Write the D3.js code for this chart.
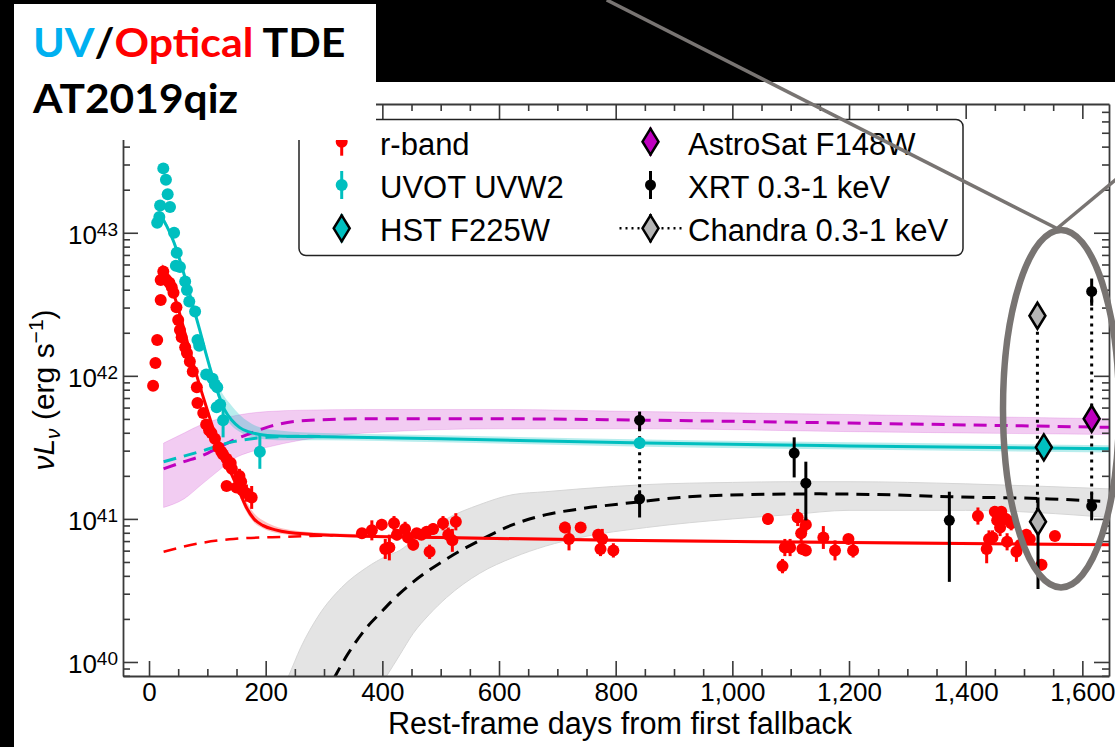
<!DOCTYPE html>
<html><head><meta charset="utf-8">
<script src="https://cdn.jsdelivr.net/npm/d3@7"></script>
<style>
html,body{margin:0;padding:0;background:#000;}
svg{display:block;}
</style></head>
<body>
<svg id="fig" width="1115" height="747"></svg>
<script>
// ---- observations: [day, log10 L] or [day, log10 L, err(dex)] ----
const rbandEarly = [
  [7,41.93],[11,42.09],[14,42.25],[20,42.53],[20,42.67],[24.5,42.73],[27,42.68],[30,42.67],
  [35,42.65],[39,42.62],[42,42.58],[47,42.48],[50,42.39],[53,42.32],[56,42.27],[62,42.20],
  [65,42.16],[70,42.10],[75,42.03],[82,41.92],[83,41.81],[93,41.74],[98,41.66],[103,41.62],
  [107,41.60],[113,41.56],[119,41.50],[124,41.47],[127,41.45],[133,41.42],[136,41.38],
  [140,41.39],[142,41.35],[133,41.23],[150,41.22],[155,41.30,0.05],[158,41.26],[160,41.20,0.06],
  [167,41.18,0.06],[176,41.15,0.08]
];
const rbandLate = [
  [365,40.90,0.03],[382,40.92,0.07],[399,40.96,0.04],[405,40.79,0.07],[412,40.80,0.09],
  [420,40.97,0.05],[425,40.89,0.04],[439,40.93,0.05],[444,40.87,0.04],[453,40.82,0.04],
  [459,40.90,0.03],[467,40.89,0.03],[476,40.91,0.03],[481,40.77,0.05],[487,40.93,0.04],
  [504,40.97,0.05],[513,40.89,0.05],[520,40.85,0.08],[526,40.98,0.06],[713,40.94,0.04],
  [720,40.86,0.08],[740,40.94,0.02],[770,40.89,0.04],[777,40.86,0.07],[774,40.79,0.05],
  [796,40.78,0.05],[1061,41.00,0.04],[1086,40.67,0.05],[1090,40.80,0.06],[1099,40.80,0.06],
  [1112,41.01,0.06],[1118,40.90,0.06],[1120,40.79,0.04],[1126,40.96,0.05],[1126,40.78,0.04],
  [1156,40.87,0.08],[1176,40.78,0.07],[1199,40.86,0.02],[1207,40.78,0.05],[1421,41.02,0.06],
  [1436,40.79,0.10],[1440,40.86,0.06],[1446,40.87,0.05],[1450,41.05,0.04],[1454,40.99,0.05],
  [1459,40.94,0.06],[1461,41.05,0.04],[1469,41.00,0.04],[1471,40.84,0.06],[1478,40.97,0.05],
  [1487,40.77,0.07],[1494,40.82,0.05],[1504,40.89,0.04],[1510,40.86,0.04],[1530,40.68,0.04],
  [1553,40.88,0.02]
];
const uvw2Points = [
  [14,43.07],[17.7,43.11],[19,43.19],[24.5,43.45],[29,43.37],[32,43.27],[36,43.18],[43,43.00],
  [46,42.77],[47.5,42.86],[53,42.76],[62,42.66],[65,42.60],[69,42.52],[79,42.45],[83,42.25],
  [86,42.21],[98,42.01],[109,41.98],[113,41.94],[117,41.92],[122,41.80],[116,41.78],
  [127,41.69,0.12],[190,41.47,0.12],[841,41.53,0.04]
];
// X-ray: [day, log10 L, low, high]
const xrtPoints = [
  [841,41.69,41.62,41.75],[841,41.14,41.01,41.20],[1106,41.46,41.29,41.57],
  [1126,41.25,40.99,41.40],[1372,40.99,40.56,41.19],[1616,42.59,42.49,42.68],
  [1616,41.09,40.99,41.18]
];
const chandraPoints = [[1523,42.42,42.42,42.42],[1524,40.98,40.51,41.15]];
const hstPoints = [[1534,41.50]];
const astrosatPoints = [[1616,41.70]];
// pairs joined by dotted connectors: [day, log10 from, log10 to]
const connectors = [[841,41.69,41.14],[1523,42.42,40.98],[1616,42.59,41.09]];

// ---- models: [day, log10 L, band low, band high] ----
const rModel = [
  [22,42.77,42.75,42.79],[40,42.60,42.58,42.62],[55,42.40,42.38,42.42],[70,42.17,42.15,42.19],
  [87,41.93,41.91,41.95],[100,41.76,41.74,41.78],[110,41.63,41.61,41.65],[122,41.50,41.48,41.52],
  [133,41.39,41.37,41.42],[145,41.28,41.26,41.31],[156,41.18,41.15,41.21],[167,41.08,41.05,41.12],
  [180,41.00,40.975,41.04],[195,40.955,40.935,40.99],[215,40.925,40.905,40.95],
  [240,40.905,40.89,40.925],[316,40.886,40.875,40.90],[500,40.87,40.86,40.882],
  [800,40.85,40.84,40.862],[1200,40.835,40.825,40.847],[1646,40.82,40.81,40.832]
];
const rHostTrack = [[25,40.77],[87,40.83],[145,40.86],[236,40.875],[316,40.885]];
const uvModel = [
  [20,43.12,43.10,43.14],[30,43.05,43.03,43.07],[43,42.93,42.91,42.95],[55,42.78,42.76,42.80],
  [65,42.64,42.62,42.66],[76,42.48,42.46,42.50],[87,42.32,42.30,42.34],[98,42.15,42.13,42.18],
  [110,41.98,41.96,42.02],[120,41.86,41.83,41.92],[130,41.76,41.72,41.85],[142,41.69,41.65,41.79],
  [155,41.64,41.61,41.73],[170,41.61,41.58,41.68],[190,41.59,41.56,41.64],[220,41.58,41.55,41.62],
  [300,41.575,41.55,41.60],[500,41.56,41.535,41.585],[850,41.53,41.505,41.555],
  [1200,41.51,41.485,41.535],[1646,41.49,41.465,41.515]
];
const uvHostTrack = [[25,41.40],[87,41.47],[145,41.54],[202,41.57],[260,41.578],[300,41.575]];
const fuvModel = [
  [25,41.35,41.08,41.53],[60,41.40,41.14,41.60],[90,41.44,41.24,41.66],[120,41.50,41.34,41.70],
  [145,41.55,41.42,41.72],[175,41.60,41.47,41.74],[202,41.64,41.50,41.75],[260,41.685,41.55,41.76],
  [370,41.70,41.60,41.765],[600,41.70,41.63,41.765],[850,41.69,41.63,41.75],
  [1200,41.67,41.61,41.73],[1646,41.64,41.59,41.70]
];
const xModel = [
  [300,39.75],[319,39.90],[340,40.05],[373,40.24],[396,40.34],[430,40.48],[453,40.56],
  [510,40.72],[567,40.85],[624,40.96],[681,41.03],[739,41.07],[842,41.12],[910,41.15],
  [1030,41.17],[1150,41.175],[1250,41.17],[1373,41.155],[1544,41.14],[1646,41.12]
];
// [day, band low, band high]
const xBand = [
  [200,38.8,39.6],[239,38.9,39.90],[260,39.0,40.10],[290,39.15,40.32],[330,39.4,40.52],
  [373,39.7,40.66],[407,39.90,40.74],[430,40.05,40.78],[453,40.20,40.85],[480,40.33,40.92],
  [510,40.45,41.00],[567,40.62,41.10],[624,40.73,41.17],[680,40.81,41.19],[739,40.87,41.21],
  [853,40.94,41.24],[1000,41.00,41.255],[1100,41.03,41.26],[1200,41.06,41.26],
  [1400,41.06,41.245],[1646,41.01,41.21]
];

const xTicks = [0,200,400,600,800,1000,1200,1400,1600];
const xMinorTicks = d3.range(0, 1650, 50).filter(v => v % 200 !== 0);
const yExponents = [40,41,42,43];
const legendLabels = ['r-band','UVOT UVW2','HST F225W','AstroSat F148W','XRT 0.3-1 keV','Chandra 0.3-1 keV'];

// ---- layout ----
const FONT = "'Liberation Sans', Arial, Helvetica, sans-serif";
const plot = {left:123, right:1109, top:104, bottom:676};
const x = d3.scaleLinear().domain([-44.6, 1645.7]).range([plot.left, plot.right]);
const y = d3.scaleLog().domain([10**39.902, 10**43.90]).range([plot.bottom, plot.top]);
const L = v => y(10 ** v);

const COL = {red:'#ff0000', cyan:'#00bfbf', mag:'#bf00bf', black:'#000', gray:'#b4b4b4'};

const svg = d3.select('#fig');
svg.append('rect').attr('x',14).attr('y',82).attr('width',1101).attr('height',665).attr('fill','#fff');

const defs = svg.append('defs');
defs.append('clipPath').attr('id','plotClip').append('rect')
  .attr('x',plot.left).attr('y',plot.top)
  .attr('width',plot.right-plot.left).attr('height',plot.bottom-plot.top);

const g = svg.append('g').attr('clip-path','url(#plotClip)');

const band = d3.area().x(d=>x(d[0])).y0(d=>L(d[2])).y1(d=>L(d[3])).curve(d3.curveMonotoneX);
const xband = d3.area().x(d=>x(d[0])).y0(d=>L(d[1])).y1(d=>L(d[2])).curve(d3.curveMonotoneX);
const line = d3.line().x(d=>x(d[0])).y(d=>L(d[1])).curve(d3.curveMonotoneX);

// uncertainty bands
g.append('path').datum(xBand).attr('d',xband).attr('fill','#e4e4e4').attr('stroke','#d6d6d6').attr('stroke-width',1);
g.append('path').datum(fuvModel).attr('d',band).attr('fill','rgba(191,0,191,0.2)').attr('stroke','rgba(191,0,191,0.15)');
g.append('path').datum(uvModel).attr('d',band).attr('fill','rgba(0,191,191,0.28)');
g.append('path').datum(rModel).attr('d',band).attr('fill','rgba(255,0,0,0.25)');

// model curves
const dash = '13,8';
g.append('path').datum(xModel).attr('d',line).attr('fill','none').attr('stroke',COL.black).attr('stroke-width',3).attr('stroke-dasharray',dash);
g.append('path').datum(fuvModel).attr('d',line).attr('fill','none').attr('stroke',COL.mag).attr('stroke-width',3).attr('stroke-dasharray',dash);
g.append('path').datum(rHostTrack).attr('d',line).attr('fill','none').attr('stroke',COL.red).attr('stroke-width',2.5).attr('stroke-dasharray',dash);
g.append('path').datum(uvHostTrack).attr('d',line).attr('fill','none').attr('stroke',COL.cyan).attr('stroke-width',3).attr('stroke-dasharray',dash);
g.append('path').datum(uvModel).attr('d',line).attr('fill','none').attr('stroke',COL.cyan).attr('stroke-width',3);
g.append('path').datum(rModel).attr('d',line).attr('fill','none').attr('stroke',COL.red).attr('stroke-width',3);

// dotted connectors between simultaneous measurements
g.selectAll('line.conn').data(connectors).join('line').attr('class','conn')
  .attr('x1',d=>x(d[0])).attr('x2',d=>x(d[0])).attr('y1',d=>L(d[1])).attr('y2',d=>L(d[2]))
  .attr('stroke','#000').attr('stroke-width',3).attr('stroke-dasharray','3,5');

function errPoints(data, color, r) {
  const withErr = data.filter(d => d[2]);
  g.append('g').selectAll('line').data(withErr).join('line')
    .attr('x1',d=>x(d[0])).attr('x2',d=>x(d[0]))
    .attr('y1',d=>L(d[1]-d[2])).attr('y2',d=>L(d[1]+d[2]))
    .attr('stroke',color).attr('stroke-width',3);
  g.append('g').selectAll('circle').data(data).join('circle')
    .attr('cx',d=>x(d[0])).attr('cy',d=>L(d[1])).attr('r',r).attr('fill',color);
}
errPoints(rbandEarly, COL.red, 6);
errPoints(rbandLate, COL.red, 6);
errPoints(uvw2Points, COL.cyan, 6);

function diamondPath(cx, cy, w, h) {
  return `M${cx},${cy-h}L${cx+w},${cy}L${cx},${cy+h}L${cx-w},${cy}Z`;
}
// X-ray points
g.append('g').selectAll('line').data(xrtPoints).join('line')
  .attr('x1',d=>x(d[0])).attr('x2',d=>x(d[0])).attr('y1',d=>L(d[2])).attr('y2',d=>L(d[3]))
  .attr('stroke','#000').attr('stroke-width',3);
g.append('g').selectAll('circle').data(xrtPoints).join('circle')
  .attr('cx',d=>x(d[0])).attr('cy',d=>L(d[1])).attr('r',5.5).attr('fill','#000');
g.append('g').selectAll('line').data(chandraPoints.filter(d=>d[2]!==d[3])).join('line')
  .attr('x1',d=>x(d[0])).attr('x2',d=>x(d[0])).attr('y1',d=>L(d[2])).attr('y2',d=>L(d[3]))
  .attr('stroke','#000').attr('stroke-width',3);
g.append('g').selectAll('path').data(chandraPoints).join('path')
  .attr('d',d=>diamondPath(x(d[0]),L(d[1]),8,13)).attr('fill',COL.gray).attr('stroke','#000').attr('stroke-width',2.5);
g.append('g').selectAll('path').data(hstPoints).join('path')
  .attr('d',d=>diamondPath(x(d[0]),L(d[1]),8,13)).attr('fill',COL.cyan).attr('stroke','#000').attr('stroke-width',2.5);
g.append('g').selectAll('path').data(astrosatPoints).join('path')
  .attr('d',d=>diamondPath(x(d[0]),L(d[1]),8,13)).attr('fill',COL.mag).attr('stroke','#000').attr('stroke-width',2.5);

// ---- axes (ticks point inward) ----
const AX = '#3a3a3a';
function styleAxis(sel) {
  sel.attr('font-family',FONT).attr('font-size',26);
  sel.selectAll('.domain').attr('stroke',AX).attr('stroke-width',1.8);
  sel.selectAll('.tick line').attr('stroke',AX).attr('stroke-width',1.6);
  sel.selectAll('.tick text').attr('fill','#000');
}
const yMinor = [];
for (let e = 39; e <= 43; e++) for (let k = 2; k <= 9; k++) {
  const v = k * 10 ** e;
  if (v > y.domain()[0] && v < y.domain()[1]) yMinor.push(v);
}
const yMajor = yExponents.map(e => 10 ** e);

svg.append('g').attr('transform',`translate(0,${plot.bottom})`)
  .call(d3.axisBottom(x).tickValues(xTicks).tickSize(-15).tickSizeOuter(0).tickPadding(7).tickFormat(d3.format(',')))
  .call(styleAxis);
svg.append('g').attr('transform',`translate(0,${plot.bottom})`)
  .call(d3.axisBottom(x).tickValues(xMinorTicks).tickSize(-7).tickFormat(''))
  .call(styleAxis).call(s=>s.select('.domain').remove());
svg.append('g').attr('transform',`translate(0,${plot.top})`)
  .call(d3.axisTop(x).tickValues(xTicks).tickSize(-15).tickSizeOuter(0).tickFormat(''))
  .call(styleAxis);
svg.append('g').attr('transform',`translate(0,${plot.top})`)
  .call(d3.axisTop(x).tickValues(xMinorTicks).tickSize(-7).tickFormat(''))
  .call(styleAxis).call(s=>s.select('.domain').remove());

svg.append('g').attr('transform',`translate(${plot.left},0)`)
  .call(d3.axisLeft(y).tickValues(yMajor).tickSize(-15).tickSizeOuter(0).tickFormat(''))
  .call(styleAxis);
svg.append('g').attr('transform',`translate(${plot.left},0)`)
  .call(d3.axisLeft(y).tickValues(yMinor).tickSize(-7).tickFormat(''))
  .call(styleAxis).call(s=>s.select('.domain').remove());
svg.append('g').attr('transform',`translate(${plot.right},0)`)
  .call(d3.axisRight(y).tickValues(yMajor).tickSize(-15).tickSizeOuter(0).tickFormat(''))
  .call(styleAxis);
svg.append('g').attr('transform',`translate(${plot.right},0)`)
  .call(d3.axisRight(y).tickValues(yMinor).tickSize(-7).tickFormat(''))
  .call(styleAxis).call(s=>s.select('.domain').remove());

// y tick labels as 10^n
const yl = svg.append('g').attr('font-family',FONT).attr('fill','#000');
yExponents.forEach(e => {
  const t = yl.append('text').attr('x',118).attr('y',L(e)+11).attr('text-anchor','end').attr('font-size',26);
  t.append('tspan').text('10');
  t.append('tspan').attr('font-size',19).attr('dy',-8).text(String(e));
});

// axis titles
svg.append('text').attr('x',620).attr('y',734).attr('text-anchor','middle')
  .attr('font-family',FONT).attr('font-size',30.6).attr('fill','#000')
  .text('Rest-frame days from first fallback');
const ylab = svg.append('text').attr('transform','translate(54,390) rotate(-90)')
  .attr('text-anchor','middle').attr('font-family',FONT).attr('font-size',30).attr('fill','#000');
ylab.append('tspan').attr('font-style','italic').text('νL');
ylab.append('tspan').attr('font-style','italic').attr('font-size',21).attr('dy',6).text('ν');
ylab.append('tspan').attr('dy',-6).text(' (erg s');
ylab.append('tspan').attr('font-size',21).attr('dy',-11).text('−1');
ylab.append('tspan').attr('dy',11).text(')');

// ---- legend ----
const leg = svg.append('g');
leg.append('rect').attr('x',299).attr('y',119.5).attr('width',664).attr('height',136).attr('rx',7)
  .attr('fill','#fff').attr('stroke','#222').attr('stroke-width',1.5);
const rowY = [141.7, 185, 228.3];
const col1 = {mx:341.7, tx:380}, col2 = {mx:650.5, tx:688};
function legErrHandle(cx, cy, color) {
  leg.append('line').attr('x1',cx).attr('x2',cx).attr('y1',cy-14).attr('y2',cy+14).attr('stroke',color).attr('stroke-width',3);
}
legErrHandle(col1.mx,rowY[0],COL.red);
leg.append('circle').attr('cx',col1.mx).attr('cy',rowY[0]).attr('r',6).attr('fill',COL.red);
legErrHandle(col1.mx,rowY[1],COL.cyan);
leg.append('circle').attr('cx',col1.mx).attr('cy',rowY[1]).attr('r',6).attr('fill',COL.cyan);
legErrHandle(col1.mx,rowY[2],COL.cyan);
leg.append('path').attr('d',diamondPath(col1.mx,rowY[2],8,13)).attr('fill',COL.cyan).attr('stroke','#000').attr('stroke-width',2.5);
legErrHandle(col2.mx,rowY[0],COL.mag);
leg.append('path').attr('d',diamondPath(col2.mx,rowY[0],8,13)).attr('fill',COL.mag).attr('stroke','#000').attr('stroke-width',2.5);
legErrHandle(col2.mx,rowY[1],'#000');
leg.append('circle').attr('cx',col2.mx).attr('cy',rowY[1]).attr('r',5.5).attr('fill','#000');
leg.append('line').attr('x1',col2.mx-31).attr('x2',col2.mx+31).attr('y1',rowY[2]).attr('y2',rowY[2])
  .attr('stroke','#000').attr('stroke-width',2.5).attr('stroke-dasharray','2,4');
legErrHandle(col2.mx,rowY[2],'#000');
leg.append('path').attr('d',diamondPath(col2.mx,rowY[2],8,13)).attr('fill',COL.gray).attr('stroke','#000').attr('stroke-width',2.5);
legendLabels.forEach((lab,i) => {
  const c = i < 3 ? col1 : col2;
  leg.append('text').attr('x',c.tx).attr('y',rowY[i%3]+13).attr('font-family',FONT).attr('font-size',31)
    .attr('fill','#000').text(lab);
});

// ---- title panel ----
svg.append('rect').attr('x',14).attr('y',4).attr('width',362).attr('height',136).attr('fill','#fff');
function fitTitle(textSel, x0, y0, width) {
  const w = textSel.node().getComputedTextLength();
  textSel.attr('transform',`translate(${x0},${y0}) scale(${width / w},1)`);
}
const t1 = svg.append('text').attr('font-family','Lato, "Open Sans", sans-serif').attr('font-weight',700).attr('font-size',40);
t1.append('tspan').attr('fill','#00b0f0').text('UV');
t1.append('tspan').attr('fill','#000').text('/');
t1.append('tspan').attr('fill','#ff0000').text('Optical');
t1.append('tspan').attr('fill','#000').text(' TDE');
fitTitle(t1, 33, 57, 309);
const t2 = svg.append('text').attr('font-family','Lato, "Open Sans", sans-serif').attr('font-weight',700).attr('font-size',40)
  .attr('fill','#000').text('AT2019qiz');
fitTitle(t2, 33, 113, 205);

// ---- callout: pointer lines and ellipse around the late-time epochs ----
const callout = svg.append('g').attr('stroke','#787472').attr('fill','none');
callout.append('line').attr('x1',606.7).attr('y1',0).attr('x2',1057).attr('y2',228.5).attr('stroke-width',3.5);
callout.append('line').attr('x1',1057).attr('y1',228.5).attr('x2',1125).attr('y2',172).attr('stroke-width',3.5);
callout.append('ellipse').attr('cx',1061).attr('cy',408.7).attr('rx',58).attr('ry',178.7).attr('stroke-width',6.5);
</script>
</body></html>
